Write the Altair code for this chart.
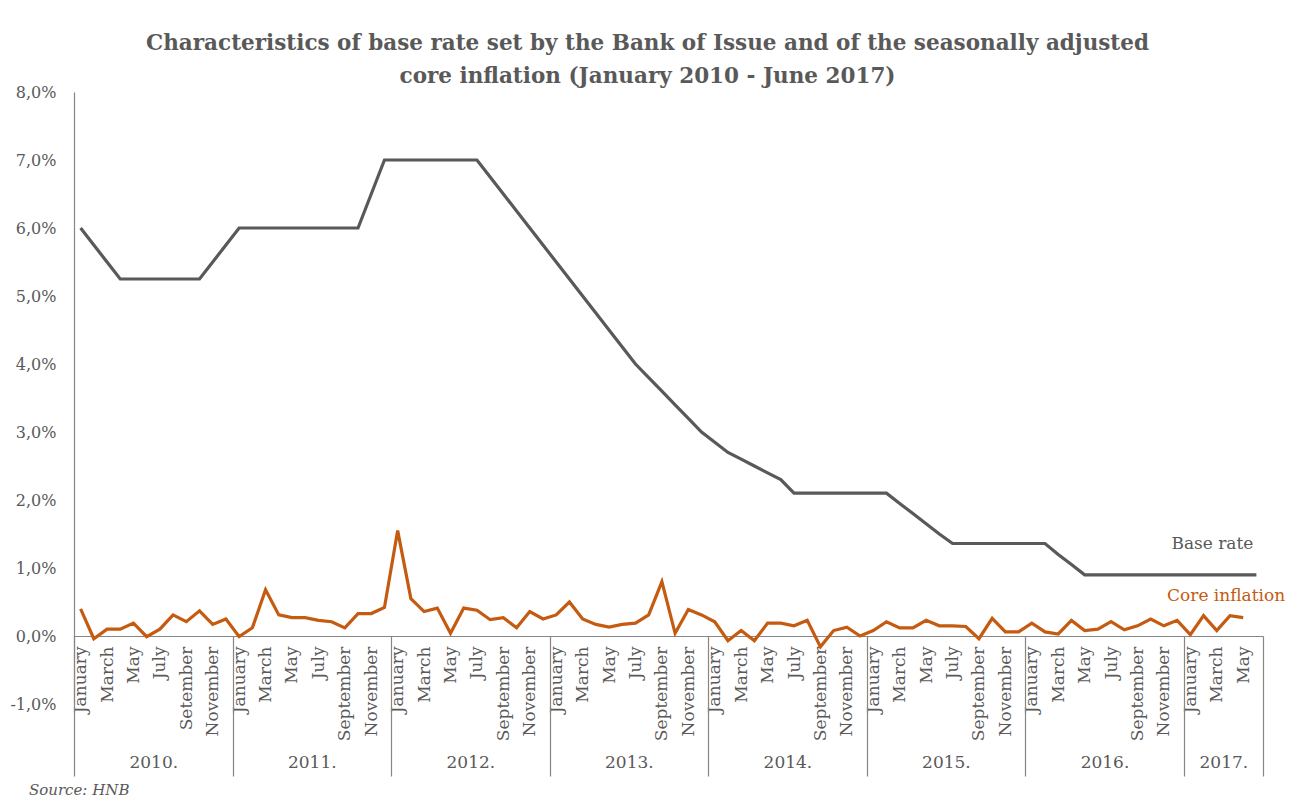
import altair as alt
import pandas as pd

# ---------------- data ----------------
years = ["2010.", "2011.", "2012.", "2013.", "2014.", "2015.", "2016.", "2017."]
month_names = ["January", "February", "March", "April", "May", "June", "July",
               "August", "September", "October", "November", "December"]
# label as printed in the original (typo in 2010)
label_overrides = {8: "Setember"}

base_rate = [
    6.0, 5.75, 5.5, 5.25, 5.25, 5.25, 5.25, 5.25, 5.25, 5.25, 5.5, 5.75,      # 2010
    6.0, 6.0, 6.0, 6.0, 6.0, 6.0, 6.0, 6.0, 6.0, 6.0, 6.5, 7.0,               # 2011
    7.0, 7.0, 7.0, 7.0, 7.0, 7.0, 7.0, 6.75, 6.5, 6.25, 6.0, 5.75,            # 2012
    5.5, 5.25, 5.0, 4.75, 4.5, 4.25, 4.0, 3.8, 3.6, 3.4, 3.2, 3.0,            # 2013
    2.85, 2.7, 2.6, 2.5, 2.4, 2.3, 2.1, 2.1, 2.1, 2.1, 2.1, 2.1,              # 2014
    2.1, 2.1, 1.95, 1.8, 1.65, 1.5, 1.36, 1.36, 1.36, 1.36, 1.36, 1.36,       # 2015
    1.36, 1.36, 1.2, 1.05, 0.9, 0.9, 0.9, 0.9, 0.9, 0.9, 0.9, 0.9,            # 2016
    0.9, 0.9, 0.9, 0.9, 0.9, 0.9,                                             # 2017
]

core_inflation = [
    0.40, -0.04, 0.10, 0.10, 0.19, -0.01, 0.10, 0.31, 0.21, 0.37, 0.17, 0.25,   # 2010
    -0.01, 0.12, 0.68, 0.31, 0.27, 0.27, 0.23, 0.21, 0.12, 0.33, 0.33, 0.42,    # 2011
    1.55, 0.55, 0.36, 0.41, 0.04, 0.41, 0.38, 0.24, 0.27, 0.12, 0.36, 0.25,     # 2012
    0.31, 0.50, 0.25, 0.17, 0.13, 0.17, 0.19, 0.31, 0.80, 0.04, 0.39, 0.31,     # 2013
    0.21, -0.07, 0.08, -0.07, 0.19, 0.19, 0.15, 0.23, -0.16, 0.08, 0.13, 0.00,  # 2014
    0.08, 0.21, 0.12, 0.12, 0.23, 0.15, 0.15, 0.14, -0.04, 0.26, 0.06, 0.06,    # 2015
    0.19, 0.06, 0.03, 0.23, 0.08, 0.10, 0.21, 0.09, 0.15, 0.25, 0.15, 0.23,     # 2016
    0.02, 0.30, 0.08, 0.30, 0.27,                                               # 2017
]

y_ticks = [-1, 0, 1, 2, 3, 4, 5, 6, 7, 8]

# ---------------- derived tables ----------------
n = len(base_rate)
month_labels = []
for i in range(n):
    m = i % 12
    if i < 12 and m in label_overrides:
        month_labels.append(label_overrides[m])
    else:
        month_labels.append(month_names[m])

df_base = pd.DataFrame({"pos": [i + 0.5 for i in range(n)], "value": base_rate})
df_core = pd.DataFrame({"pos": [i + 0.5 for i in range(len(core_inflation))],
                        "value": core_inflation})
df_base_lab = df_base.tail(1).assign(text="Base rate")
df_core_lab = df_core.tail(1).assign(text="Core inflation")

FONT = "DejaVu Serif"
GRAY = "#595959"
AXIS_GRAY = "#868686"
ORANGE = "#C55A11"

W, H = 1189, 612
Y_MIN, Y_MAX = -1, 8
zero_offset = -H * (0 - Y_MIN) / (Y_MAX - Y_MIN)

xscale = alt.Scale(domain=[0, n], nice=False, zero=False)
yscale = alt.Scale(domain=[Y_MIN, Y_MAX], nice=False, zero=False)

month_arr = "[" + ",".join("'" + s + "'" for s in month_labels) + "]"
year_arr = "[" + ",".join("'" + s + "'" for s in years) + "]"

month_axis = alt.Axis(
    orient="bottom",
    values=[i + 0.5 for i in range(0, n, 2)],
    labelExpr=month_arr + "[floor(datum.value)]",
    labelAngle=270, labelFontSize=17, labelFont=FONT, labelColor=GRAY,
    labelPadding=10, labelOverlap=False, labelFlush=False,
    ticks=False, domain=True, domainColor=AXIS_GRAY, domainWidth=1.2,
    grid=False, offset=zero_offset, title=None,
)
sep_axis = alt.Axis(
    orient="bottom",
    values=list(range(0, n + 1, 12)) + [n],
    labels=False, ticks=True, tickSize=140, tickColor=AXIS_GRAY, tickWidth=1.2,
    domain=False, grid=False, offset=zero_offset, title=None,
)
year_mid = [min(12 * k + 6, (12 * k + n) / 2) for k in range(len(years))]
year_axis = alt.Axis(
    orient="bottom",
    values=year_mid,
    labelExpr=year_arr + "[floor(datum.value / 12)]",
    labelFontSize=17, labelFont=FONT, labelColor=GRAY, labelPadding=118,
    labelOverlap=False, labelFlush=False,
    ticks=False, domain=False, grid=False, offset=zero_offset, title=None,
)
y_axis = alt.Axis(
    values=y_ticks,
    labelExpr="replace(replace(format(datum.value, '.1f'), '.', ','), '\u2212', '-') + '%'",
    labelFontSize=16, labelFont=FONT, labelColor=GRAY, labelPadding=18,
    ticks=False, domain=True, domainColor=AXIS_GRAY, domainWidth=1.2,
    grid=False, title=None,
)

base_line = alt.Chart(df_base).mark_line(color="#595959", strokeWidth=3.2).encode(
    x=alt.X("pos:Q", scale=xscale, axis=month_axis),
    y=alt.Y("value:Q", scale=yscale, axis=y_axis),
)
core_line = alt.Chart(df_core).mark_line(color=ORANGE, strokeWidth=3.2).encode(
    x=alt.X("pos:Q", scale=xscale, axis=sep_axis),
    y=alt.Y("value:Q", scale=yscale, axis=y_axis),
)
base_text = alt.Chart(df_base_lab).mark_text(
    align="right", baseline="middle", dx=-3, dy=-31, font=FONT, fontSize=17, color=GRAY
).encode(
    x=alt.X("pos:Q", scale=xscale, axis=year_axis),
    y=alt.Y("value:Q", scale=yscale, axis=y_axis),
    text="text:N",
)
core_text = alt.Chart(df_core_lab).mark_text(
    align="right", baseline="middle", dx=42, dy=-22, font=FONT, fontSize=17, color=ORANGE
).encode(
    x=alt.X("pos:Q", scale=xscale, axis=None),
    y=alt.Y("value:Q", scale=yscale, axis=y_axis),
    text="text:N",
)

main = alt.layer(base_line, core_line, base_text, core_text).resolve_axis(
    x="independent"
).properties(
    width=W, height=H,
    view=alt.ViewBackground(stroke="transparent", strokeWidth=0),
    title=alt.TitleParams(
        ["Characteristics of base rate set by the Bank of Issue and of the seasonally adjusted",
         "core inflation (January 2010 - June 2017)"],
        font=FONT, fontSize=21.5, fontWeight="bold", color=GRAY,
        anchor="middle", frame="bounds", lineHeight=33, offset=-3,
    ),
)

chart = alt.vconcat(main).properties(
    title=alt.TitleParams(
        "Source: HNB", orient="bottom", anchor="start", font=FONT, fontSize=15,
        fontStyle="italic", fontWeight="normal", color=GRAY, offset=6, dx=19,
    ),
    padding={"left": 9, "top": 32, "right": 3, "bottom": 2},
).configure_view(stroke="transparent", strokeWidth=0).configure(background="white")

chart.save("out.html", embed_options={"renderer": "svg", "actions": False})
